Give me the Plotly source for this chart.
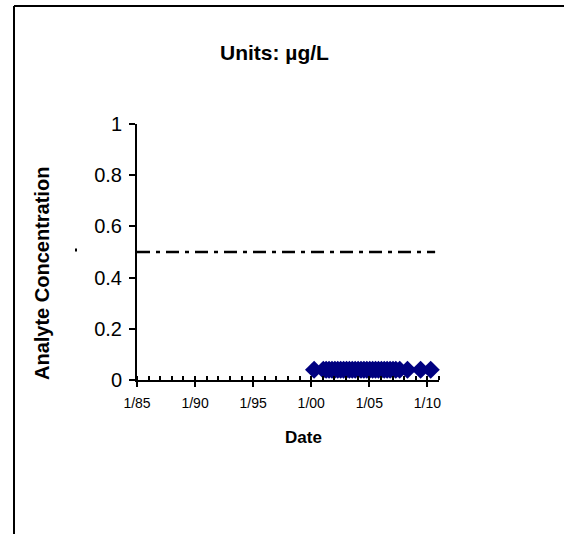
import plotly.graph_objects as go

# Sample dates and measured concentrations (µg/L)
sample_dates = [
    "2000-04-01", "2001-01-15", "2001-04-15", "2001-07-15", "2001-10-15",
    "2002-01-15", "2002-04-15", "2002-07-15", "2002-10-15",
    "2003-01-15", "2003-04-15", "2003-07-15", "2003-10-15",
    "2004-01-15", "2004-04-15", "2004-07-15", "2004-10-15",
    "2005-01-15", "2005-04-15", "2005-07-15", "2005-10-15",
    "2006-01-15", "2006-04-15", "2006-07-15", "2006-10-15",
    "2007-01-15", "2007-04-15", "2007-08-15", "2008-04-15",
    "2009-06-01", "2010-04-15",
]
concentrations = [0.04] * len(sample_dates)

# Reference limit drawn as a dash-dot line
limit_dates = ["1985-01-01", "2010-09-01"]
limit_values = [0.5, 0.5]

# Axis ticks
x_tickvals = ["1985-01-01", "1990-01-01", "1995-01-01", "2000-01-01", "2005-01-01", "2010-01-01"]
x_ticktext = ["1/85", "1/90", "1/95", "1/00", "1/05", "1/10"]
y_tickvals = [0, 0.2, 0.4, 0.6, 0.8, 1]
y_ticktext = ["0", "0.2", "0.4", "0.6", "0.8", "1"]

FONT = "Arial, Liberation Sans, sans-serif"

fig = go.Figure()
fig.add_trace(go.Scatter(
    x=limit_dates, y=limit_values, mode="lines",
    line=dict(color="black", width=2.5, dash="13px,6px,4px,6px"),
    hoverinfo="skip", showlegend=False,
))
fig.add_trace(go.Scatter(
    x=sample_dates, y=concentrations, mode="markers",
    marker=dict(symbol="diamond", size=14, color="#000080", line=dict(width=0)),
    showlegend=False, cliponaxis=False,
))

L, R, T, B = 137, 125, 124, 154
W, H = 564, 534
pw, ph = W - L - R, H - T - B

def px_x(p):
    return (p - L) / pw

def px_y(p):
    return (H - B - p) / ph

fig.update_layout(
    width=W, height=H,
    margin=dict(l=L, r=R, t=T, b=B, pad=0),
    paper_bgcolor="white", plot_bgcolor="white",
    font=dict(family=FONT, color="black"),
    xaxis=dict(
        type="date", range=["1985-01-01", "2011-01-01"],
        tickvals=x_tickvals, ticktext=x_ticktext,
        tickfont=dict(size=14), ticks="outside", ticklen=5, tickwidth=1.5,
        tickcolor="black", ticklabelstandoff=4,
        minor=dict(ticks="inside", dtick="M12", tick0="1985-01-01",
                   ticklen=4, tickwidth=1.5, tickcolor="black", showgrid=False),
        showline=True, linecolor="black", linewidth=2,
        showgrid=False, zeroline=False,
    ),
    yaxis=dict(
        range=[0, 1], tickvals=y_tickvals, ticktext=y_ticktext,
        tickfont=dict(size=20), ticks="outside", ticklen=6, tickwidth=1.5,
        tickcolor="black", ticklabelstandoff=3,
        showline=True, linecolor="black", linewidth=2,
        showgrid=False, zeroline=False,
    ),
    annotations=[
        dict(text="<b>Units: µg/L</b>", xref="paper", yref="paper",
             x=px_x(274), y=px_y(52), xanchor="center", yanchor="middle",
             showarrow=False, font=dict(size=21, family=FONT)),
        dict(text="<b>Date</b>", xref="paper", yref="paper",
             x=px_x(303), y=px_y(437), xanchor="center", yanchor="middle",
             showarrow=False, font=dict(size=17, family=FONT)),
        dict(text="<b>Analyte Concentration</b>", xref="paper", yref="paper",
             x=px_x(42), y=px_y(274), xanchor="center", yanchor="middle",
             showarrow=False, textangle=-90, font=dict(size=20, family=FONT)),
    ],
    shapes=[
        # page frame
        dict(type="line", xref="paper", yref="paper",
             x0=px_x(14), x1=px_x(14), y0=px_y(6), y1=px_y(540),
             line=dict(color="black", width=2)),
        dict(type="line", xref="paper", yref="paper",
             x0=px_x(14), x1=px_x(570), y0=px_y(6), y1=px_y(6),
             line=dict(color="black", width=2)),
        # small mark beside the axis title
        dict(type="rect", xref="paper", yref="paper",
             x0=px_x(75), x1=px_x(77), y0=px_y(248.5), y1=px_y(251.5),
             fillcolor="black", line=dict(width=0)),
    ],
)

fig.write_html("out.html")
